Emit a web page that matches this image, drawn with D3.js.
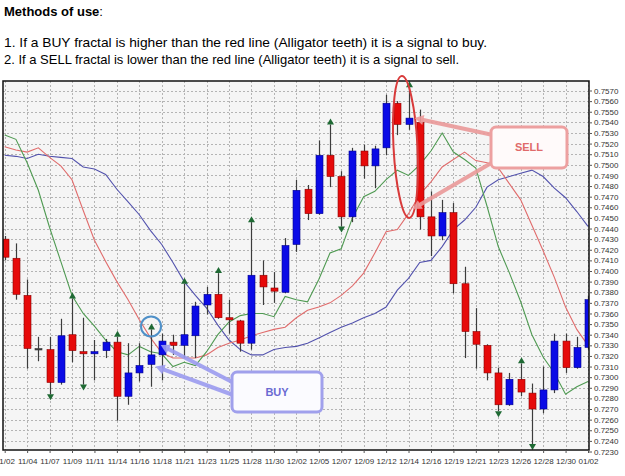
<!DOCTYPE html>
<html lang="en">
<head>
<meta charset="UTF-8">
<title>Alligator and fractals - methods of use</title>
<script src="https://d3js.org/d3.v7.min.js"></script>
<style>
  body, html { margin: 0; padding: 0; background: #fff; overflow: hidden; }
  svg { display: block; font-family: "Liberation Sans", Arial, sans-serif; }
  .grid line { stroke: #b4b4b4; stroke-dasharray: 2,2; shape-rendering: crispEdges; }
  .axis text { font-size: 8px; fill: #333; }
  .axis line { stroke: #555; }
  .axis path { display: none; }
</style>
</head>
<body>
<svg id="chart" width="625" height="476"></svg>
<script>
// trading days (forex, Sunday bars included)
const dates = ["11/02","11/03","11/04","11/06","11/07","11/08","11/09","11/10","11/11","11/13",
  "11/14","11/15","11/16","11/17","11/18","11/20","11/21","11/22","11/23","11/24",
  "11/25","11/27","11/28","11/29","11/30","12/01","12/02","12/04","12/05","12/06",
  "12/07","12/08","12/09","12/11","12/12","12/13","12/14","12/15","12/16","12/18",
  "12/19","12/20","12/21","12/22","12/23","12/25","12/26","12/27","12/28","12/29",
  "12/30","01/01","01/02"];

const opens = [0.7430,0.7412,0.7377,0.7327,0.7326,0.7295,0.7340,0.7324,0.7322,0.7325,
  0.7333,0.7282,0.7304,0.7312,0.7321,0.7333,0.7330,0.7339,0.7368,0.7378,
  0.7356,0.7353,0.7332,0.7396,0.7384,0.7380,0.7425,0.7477,0.7454,0.7509,
  0.7489,0.7451,0.7513,0.7499,0.7516,0.7558,0.7538,0.7540,0.7451,0.7433,
  0.7455,0.7388,0.7343,0.7330,0.7304,0.7274,0.7298,0.7285,0.7270,0.7288,
  0.7334,0.7309,0.7328];
const highs = [0.7433,0.7426,0.7392,0.7338,0.7338,0.7355,0.7374,0.7356,0.7335,0.7336,
  0.7338,0.7332,0.7332,0.7345,0.7341,0.7340,0.7388,0.7371,0.7385,0.7398,
  0.7373,0.7354,0.7446,0.7410,0.7399,0.7431,0.7486,0.7481,0.7523,0.7538,
  0.7494,0.7516,0.7519,0.7518,0.7566,0.7560,0.7573,0.7552,0.7475,0.7467,
  0.7464,0.7404,0.7365,0.7331,0.7309,0.7304,0.7313,0.7294,0.7310,0.7341,
  0.7341,0.7338,0.7377];
const lows = [0.7410,0.7373,0.7308,0.7315,0.7284,0.7293,0.7314,0.7293,0.7297,0.7318,
  0.7259,0.7274,0.7296,0.7291,0.7297,0.7321,0.7318,0.7318,0.7359,0.7355,
  0.7341,0.7324,0.7326,0.7368,0.7370,0.7379,0.7418,0.7448,0.7453,0.7479,
  0.7442,0.7446,0.7487,0.7478,0.7509,0.7528,0.7533,0.7439,0.7414,0.7429,
  0.7379,0.7318,0.7308,0.7297,0.7268,0.7273,0.7282,0.7237,0.7266,0.7285,
  0.7304,0.7308,0.7326];
const closes = [0.7413,0.7378,0.7327,0.7327,0.7295,0.7339,0.7325,0.7322,0.7324,0.7333,
  0.7282,0.7304,0.7311,0.7321,0.7334,0.7330,0.7340,0.7367,0.7378,0.7356,
  0.7354,0.7332,0.7396,0.7385,0.7381,0.7424,0.7476,0.7454,0.7509,0.7489,
  0.7451,0.7513,0.7499,0.7515,0.7558,0.7538,0.7544,0.7451,0.7433,0.7455,
  0.7388,0.7343,0.7331,0.7304,0.7274,0.7298,0.7286,0.7270,0.7288,0.7334,
  0.7309,0.7328,0.7373];

// Alligator lines, already shifted forward
const jaw = [0.7509,0.7508,0.7506,0.7510,0.7508,0.7507,0.7506,0.7498,0.7496,0.7491,
  0.7477,0.7465,0.7453,0.7438,0.7425,0.7408,0.7390,0.7377,0.7365,0.7349,
  0.7335,0.7326,0.7321,0.7321,0.7326,0.7328,0.7329,0.7332,0.7337,0.7342,
  0.7347,0.7351,0.7356,0.7360,0.7366,0.7382,0.7393,0.7408,0.7410,0.7423,
  0.7439,0.7448,0.7460,0.7479,0.7486,0.7489,0.7492,0.7495,0.7489,0.7478,
  0.7469,0.7456,0.7442];
const teeth = [0.7517,0.7514,0.7512,0.7516,0.7507,0.7499,0.7486,0.7457,0.7429,0.7409,
  0.7390,0.7373,0.7354,0.7337,0.7323,0.7318,0.7318,0.7318,0.7321,0.7328,
  0.7332,0.7335,0.7339,0.7342,0.7345,0.7347,0.7356,0.7363,0.7366,0.7370,
  0.7377,0.7386,0.7398,0.7417,0.7437,0.7439,0.7454,0.7472,0.7484,0.7498,
  0.7505,0.7512,0.7504,0.7502,0.7497,0.7482,0.7467,0.7443,0.7419,0.7394,
  0.7366,0.7345,0.7330];
const lips = [0.7528,0.7524,0.7502,0.7476,0.7441,0.7409,0.7377,0.7360,0.7348,0.7335,
  0.7324,0.7321,0.7329,0.7324,0.7322,0.7310,0.7314,0.7311,0.7324,0.7340,
  0.7352,0.7358,0.7360,0.7360,0.7357,0.7376,0.7373,0.7371,0.7392,0.7417,
  0.7421,0.7450,0.7470,0.7475,0.7486,0.7495,0.7490,0.7500,0.7513,0.7530,
  0.7512,0.7505,0.7497,0.7461,0.7423,0.7398,0.7371,0.7340,0.7319,0.7304,
  0.7284,0.7291,0.7296];

const upFractals = [6, 10, 13, 16, 19, 22, 29, 36, 46];
const downFractals = [4, 7, 30, 44, 47];

const priceTicks = d3.range(7230, 7571, 10).map(v => v / 10000);
const dateTicks = dates.filter((d, i) => i % 2 === 0);

const svg = d3.select("#chart");
const plot = { left: 3, top: 81, right: 589, bottom: 450 };

const x = d3.scalePoint().domain(dates).range([4.7, 588]);
const y = d3.scaleLinear().domain([0.7230, 0.7570]).range([451.5, 90.5]);

// header text
const head = svg.append("text").attr("x", 4).attr("y", 16).style("font-size", "13px");
head.append("tspan").attr("font-weight", "bold").text("Methods of use");
head.append("tspan").text(":");
svg.append("text").attr("x", 4).attr("y", 47).style("font-size", "13px")
  .attr("textLength", 483).attr("lengthAdjust", "spacingAndGlyphs")
  .text("1. If a BUY fractal is higher than the red line (Alligator teeth) it is a signal to buy.");
svg.append("text").attr("x", 4).attr("y", 64).style("font-size", "13px")
  .attr("textLength", 455).attr("lengthAdjust", "spacingAndGlyphs")
  .text("2. If a SELL fractal is lower than the red line (Alligator teeth) it is a signal to sell.");

// plot background
svg.append("rect")
  .attr("x", plot.left).attr("y", plot.top)
  .attr("width", plot.right - plot.left).attr("height", plot.bottom - plot.top)
  .attr("fill", "#f5f5f5");

svg.append("clipPath").attr("id", "clip").append("rect")
  .attr("x", plot.left).attr("y", plot.top)
  .attr("width", plot.right - plot.left).attr("height", plot.bottom - plot.top);

const g = svg.append("g").attr("clip-path", "url(#clip)");

// grid
const grid = g.append("g").attr("class", "grid");
grid.selectAll(".h").data(priceTicks).join("line").attr("class", "h")
  .attr("x1", plot.left).attr("x2", plot.right)
  .attr("y1", d => Math.round(y(d)) + 0.5).attr("y2", d => Math.round(y(d)) + 0.5);
grid.selectAll(".v").data(dateTicks).join("line").attr("class", "v")
  .attr("y1", plot.top).attr("y2", plot.bottom)
  .attr("x1", d => Math.round(x(d)) + 0.5).attr("x2", d => Math.round(x(d)) + 0.5);

// alligator lines
const lineGen = arr => d3.line().x((d, i) => x(dates[i])).y(d => y(d))(arr);
g.append("path").attr("d", lineGen(jaw)).attr("fill", "none").attr("stroke", "#5252ad").attr("stroke-width", 1.1);
g.append("path").attr("d", lineGen(teeth)).attr("fill", "none").attr("stroke", "#e06c6c").attr("stroke-width", 1.1);
g.append("path").attr("d", lineGen(lips)).attr("fill", "none").attr("stroke", "#4f9a52").attr("stroke-width", 1.1);

// candles
const candles = dates.map((d, i) => ({ d, o: opens[i], h: highs[i], l: lows[i], c: closes[i] }));
const bw = 7;
g.selectAll(".wick").data(candles).join("line").attr("class", "wick")
  .attr("x1", d => Math.round(x(d.d)) + 0.5).attr("x2", d => Math.round(x(d.d)) + 0.5)
  .attr("y1", d => y(d.h)).attr("y2", d => y(d.l))
  .attr("stroke", "#3c3c3c").attr("stroke-width", 1.2);
g.selectAll(".body").data(candles).join("rect").attr("class", "body")
  .attr("x", d => Math.round(x(d.d)) + 0.5 - bw / 2)
  .attr("width", bw)
  .attr("y", d => y(Math.max(d.o, d.c)))
  .attr("height", d => Math.max(1.5, Math.abs(y(d.o) - y(d.c))))
  .attr("fill", d => d.c > d.o ? "#0a0ae6" : d.c < d.o ? "#e60a0a" : "#3c3c3c")
  .attr("stroke", d => d.c > d.o ? "#00008a" : d.c < d.o ? "#8a0000" : "#3c3c3c")
  .attr("stroke-width", 0.6);

// fractal arrows
const arrowCol = "#1f6a34";
g.selectAll(".up").data(upFractals).join("path").attr("class", "up")
  .attr("d", i => {
    const cx = Math.round(x(dates[i])) + 0.5, cy = y(highs[i]);
    return `M${cx - 3.5},${cy} L${cx + 3.5},${cy} L${cx},${cy - 6} Z`;
  }).attr("fill", arrowCol);
g.selectAll(".down").data(downFractals).join("path").attr("class", "down")
  .attr("d", i => {
    const cx = Math.round(x(dates[i])) + 0.5, cy = y(lows[i]);
    return `M${cx - 3.5},${cy} L${cx + 3.5},${cy} L${cx},${cy + 6} Z`;
  }).attr("fill", arrowCol);

// frame
svg.append("rect")
  .attr("x", plot.left).attr("y", plot.top)
  .attr("width", plot.right - plot.left).attr("height", plot.bottom - plot.top)
  .attr("fill", "none").attr("stroke", "#111").attr("stroke-width", 1.5);

// axes
svg.append("g").attr("class", "axis")
  .attr("transform", `translate(${plot.right},0)`)
  .call(d3.axisRight(y).tickValues(priceTicks).tickFormat(d3.format(".4f")).tickSize(3).tickPadding(2));
svg.append("g").attr("class", "axis")
  .attr("transform", `translate(0,${plot.bottom})`)
  .call(d3.axisBottom(x).tickValues(dateTicks).tickSize(3).tickPadding(5));

// annotations
function callArrow(x1, y1, x2, y2, col) {
  const a = Math.atan2(y2 - y1, x2 - x1);
  const hl = 9, hw = 5;
  const bx = x2 - hl * Math.cos(a), by = y2 - hl * Math.sin(a);
  svg.append("line").attr("x1", x1).attr("y1", y1).attr("x2", bx).attr("y2", by)
    .attr("stroke", col).attr("stroke-width", 4).attr("stroke-linecap", "round").attr("opacity", 0.9);
  svg.append("path")
    .attr("d", `M${x2},${y2} L${bx + hw * Math.sin(a)},${by - hw * Math.cos(a)} L${bx - hw * Math.sin(a)},${by + hw * Math.cos(a)} Z`)
    .attr("fill", col).attr("opacity", 0.9);
}

// BUY circle around fractal
svg.append("circle")
  .attr("cx", x(dates[13]) + 0.5).attr("cy", y(highs[13]) - 3)
  .attr("r", 10).attr("fill", "none").attr("stroke", "#4f90c8").attr("stroke-width", 2);

callArrow(236, 384, x(dates[14]) - 1, y(closes[14]) + 4, "#9c9cf0");
callArrow(236, 396, x(dates[13]) + 5, y(opens[13]) + 2, "#9c9cf0");

const buy = svg.append("g");
buy.append("rect").attr("x", 232).attr("y", 372).attr("width", 90).attr("height", 40).attr("rx", 5)
  .attr("fill", "#fbfbff").attr("stroke", "#a0a0ec").attr("stroke-width", 3);
buy.append("text").attr("x", 277).attr("y", 396).attr("text-anchor", "middle")
  .style("font-size", "11px").attr("font-weight", "bold").attr("fill", "#6a6ad2").text("BUY");

// SELL ellipse
svg.append("ellipse")
  .attr("cx", x(dates[36]) - 3).attr("cy", 147).attr("rx", 12).attr("ry", 71)
  .attr("transform", `rotate(-3,${x(dates[36]) - 3},147)`)
  .attr("fill", "none").attr("stroke", "#d83a3a").attr("stroke-width", 2);

callArrow(493, 135, x(dates[36]) + 6, y(closes[36]), "#eb9a9a");
callArrow(493, 162, x(dates[36]) + 4, 209, "#eb9a9a");

const sell = svg.append("g");
sell.append("rect").attr("x", 491).attr("y", 127).attr("width", 76).attr("height", 41).attr("rx", 5)
  .attr("fill", "#fffafa").attr("stroke", "#eda0a0").attr("stroke-width", 3);
sell.append("text").attr("x", 529).attr("y", 151).attr("text-anchor", "middle")
  .style("font-size", "11px").attr("font-weight", "bold").attr("fill", "#e06a6a").text("SELL");
</script>
</body>
</html>
